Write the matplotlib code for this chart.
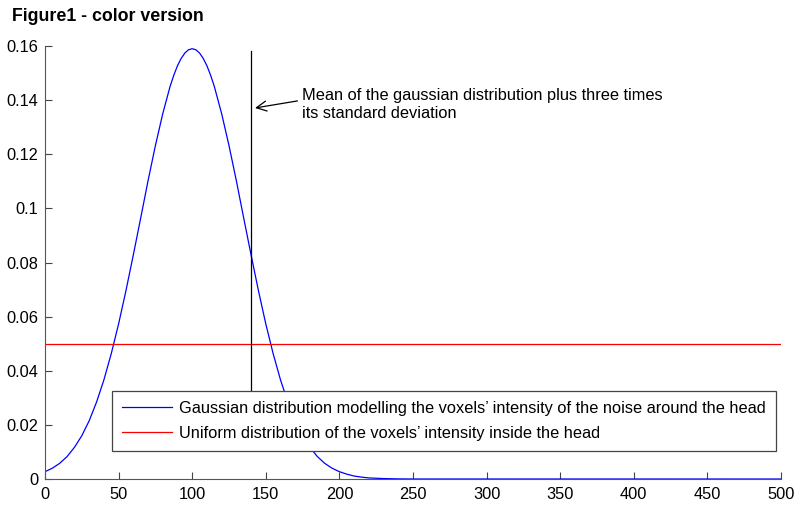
import matplotlib
matplotlib.use('Agg')
import matplotlib.pyplot as plt

plt.rcParams['font.family'] = ['Liberation Sans', 'DejaVu Sans']

# gaussian curve (intensity, probability)
intensity = [0, 5, 10, 15, 20, 25, 30, 35, 40, 45, 50, 55, 60, 65, 70, 75, 80,
             85, 87.5, 90, 92.5, 95, 97.5, 100, 102.5, 105, 107.5, 110, 112.5,
             115, 120, 125, 130, 135, 140, 145, 150, 155, 160, 165, 170, 175,
             180, 185, 190, 195, 200, 205, 210, 215, 220, 230, 240, 250, 500]
gauss_prob = [0.0027, 0.0040, 0.0058, 0.0083, 0.0117, 0.0160, 0.0215, 0.0284,
              0.0366, 0.0463, 0.0573, 0.0696, 0.0828, 0.0964, 0.1102, 0.1232,
              0.1350, 0.1451, 0.1492, 0.1527, 0.1554, 0.1574, 0.1586, 0.1590,
              0.1586, 0.1574, 0.1554, 0.1527, 0.1492, 0.1451, 0.1350, 0.1232,
              0.1102, 0.0964, 0.0828, 0.0696, 0.0573, 0.0463, 0.0366, 0.0284,
              0.0215, 0.0160, 0.0117, 0.0083, 0.0058, 0.0040, 0.0027, 0.0018,
              0.0011, 0.0007, 0.0004, 0.00016, 0.00005, 0.00001, 0.0]

uniform_x = [0, 500]
uniform_prob = [0.05, 0.05]

threshold_x = [140, 140]
threshold_y = [0.03, 0.158]

x_ticks = [0, 50, 100, 150, 200, 250, 300, 350, 400, 450, 500]
y_ticks = [0, 0.02, 0.04, 0.06, 0.08, 0.1, 0.12, 0.14, 0.16]
y_tick_labels = ['0', '0.02', '0.04', '0.06', '0.08', '0.1', '0.12', '0.14', '0.16']

fig = plt.figure(figsize=(8, 5.11), dpi=100)
ax = fig.add_axes([0.05625, 0.0626, 0.92, 0.8474])

ax.plot(intensity, gauss_prob, color='#0000ff', lw=0.9,
        label="Gaussian distribution modelling the voxels\u2019 intensity of the noise around the head")
ax.plot(uniform_x, uniform_prob, color='#ff0000', lw=0.9,
        label="Uniform distribution of the voxels\u2019 intensity inside the head")
ax.plot(threshold_x, threshold_y, color='black', lw=0.9)

# annotation: arrow and text drawn separately
ax.annotate('', xy=(142.7, 0.1371), xytext=(171.5, 0.1397),
            arrowprops=dict(arrowstyle='->', color='black', lw=0.9,
                            shrinkA=0, shrinkB=0, mutation_scale=18))
ax.text(174.5, 0.1385, 'Mean of the gaussian distribution plus three times\nits standard deviation',
        fontsize=11.8, va='center', ha='left', linespacing=1.25)

ax.set_xlim(0, 500)
ax.set_ylim(0, 0.16)
ax.set_xticks(x_ticks)
ax.set_yticks(y_ticks)
ax.set_yticklabels(y_tick_labels)
ax.tick_params(direction='in', length=5, labelsize=11.8, color='#444444')
ax.tick_params(axis='x', pad=6)
ax.tick_params(axis='y', pad=5)

ax.spines['top'].set_visible(False)
ax.spines['right'].set_visible(False)
ax.spines['left'].set_color('#555555')
ax.spines['bottom'].set_color('#555555')

leg = ax.legend(loc='lower left', bbox_to_anchor=(0.091, 0.065), borderaxespad=0,
                fontsize=11.8, fancybox=False, framealpha=1, edgecolor='#444444',
                handlelength=3.05, handletextpad=0.45, borderpad=0.6, labelspacing=0.6)
leg.get_frame().set_linewidth(0.9)
leg.set_zorder(5)

fig.text(0.015, 0.967, 'Figure1 - color version', fontsize=12.8, fontweight='bold',
         ha='left', va='center')

fig.savefig('out.png', dpi=100)
